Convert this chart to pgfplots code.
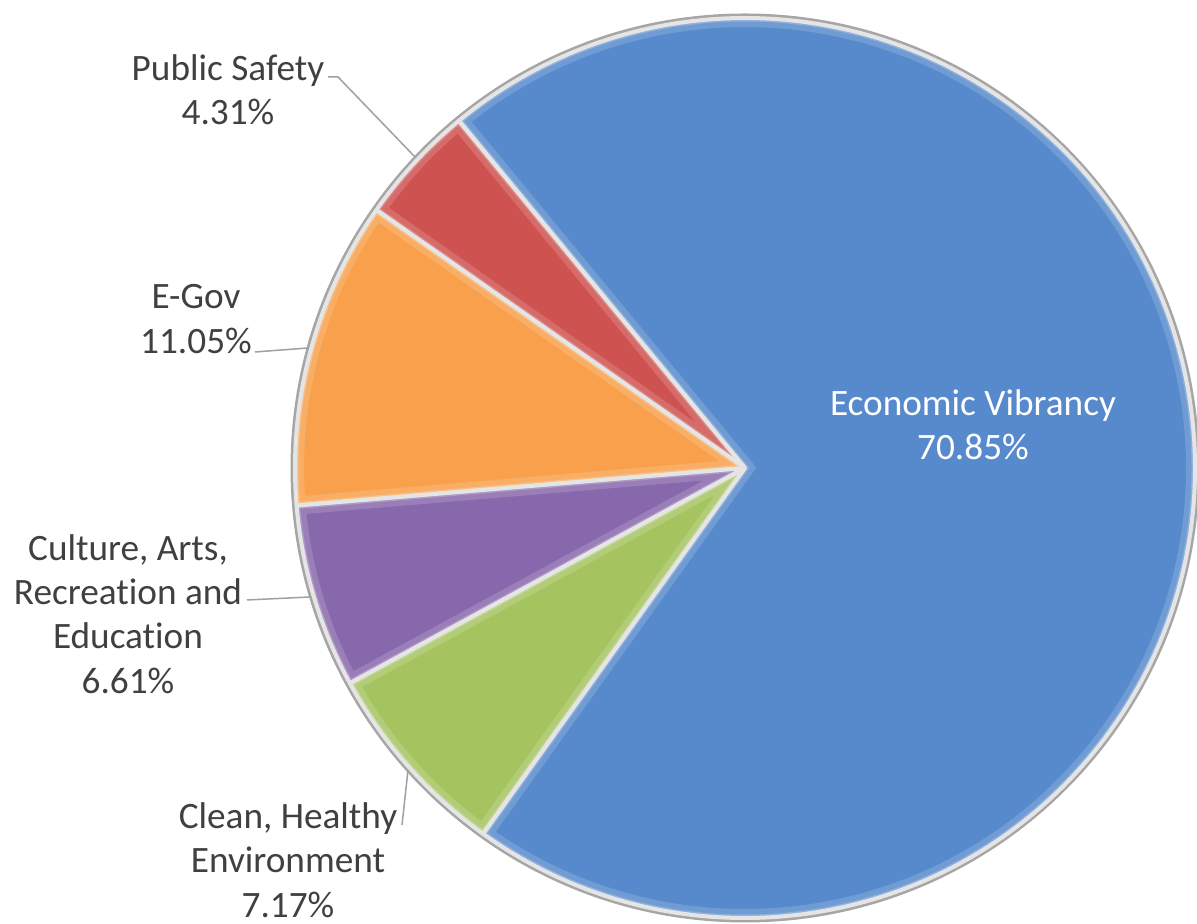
\documentclass[border=0pt]{standalone}
\usepackage{pgfplots}
\pgfplotsset{compat=1.18}
\usepackage{pgfplotstable}
\usepackage{fontspec}
\setmainfont{Carlito}[Ligatures={NoCommon}]
\definecolor{cBlue}{RGB}{87,138,204}
\definecolor{cRed}{RGB}{206,82,80}
\definecolor{cOrange}{RGB}{249,160,76}
\definecolor{cPurple}{RGB}{136,104,172}
\definecolor{cGreen}{RGB}{165,196,96}
\definecolor{txt}{RGB}{64,64,64}
\definecolor{lead}{RGB}{160,160,160}

\pgfplotstableread[col sep=comma]{
name,value,col
Public Safety,4.31,cRed
E-Gov,11.05,cOrange
Culture Arts Recreation and Education,6.61,cPurple
Clean Healthy Environment,7.17,cGreen
Economic Vibrancy,70.85,cBlue
}\piedata

\def\cx{745}
\def\cy{456}
\def\R{4.5cm}
\newcommand\slicepath[2]{(axis cs:\cx,\cy) -- ++(#1:\R) arc[start angle=#1,end angle=#2,radius=\R] -- cycle}
\newcommand\pieslice[3]{%
  \fill[#3] \slicepath{#1}{#2};
  \begin{scope}
    \clip \slicepath{#1}{#2};
    \draw[#3!50!white, line width=1.8mm, opacity=0.3] \slicepath{#1}{#2};
    \draw[#3!40!white, line width=0.7mm, opacity=0.4] \slicepath{#1}{#2};
  \end{scope}
  \draw[white!80!gray, line width=0.4mm, line join=round] \slicepath{#1}{#2};
}

\begin{document}
\begin{tikzpicture}
\begin{axis}[
  scale only axis, width=11.97cm, height=9.24cm,
  xmin=0, xmax=1197, ymin=0, ymax=924,
  hide axis, clip=false,
]
\draw[gray!70, line width=0.5mm] (axis cs:\cx,\cy) circle[radius=4.52cm];
\pgfplotstablegetrowsof{\piedata}
\pgfmathtruncatemacro\nrows{\pgfplotsretval-1}
\def\angstart{129.5}
\pgfplotsforeachungrouped \i in {0,...,\nrows}{%
  \pgfplotstablegetelem{\i}{value}\of\piedata \let\v\pgfplotsretval
  \pgfplotstablegetelem{\i}{col}\of\piedata \let\c\pgfplotsretval
  \pgfmathsetmacro\angend{\angstart+3.6*\v}%
  \edef\temp{\noexpand\pieslice{\angstart}{\angend}{\c}}%
  \temp
  \let\angstart\angend
}
% leader lines
\draw[lead, line width=0.15mm] (axis cs:328,847) -- (axis cs:338,847) -- (axis cs:415,767);
\draw[lead, line width=0.15mm] (axis cs:255,572) -- (axis cs:308,576);
\draw[lead, line width=0.15mm] (axis cs:247,324) -- (axis cs:310,327);
\draw[lead, line width=0.15mm] (axis cs:402,99) -- (axis cs:408,154);
% labels
\tikzset{lbl/.style={align=center, text=txt, font=\fontsize{10.6}{12.6}\selectfont, inner sep=0pt}}
\node[lbl, text=white] at (axis cs:973,499) {Economic Vibrancy\\70.85\%};
\node[lbl] at (axis cs:228,834) {Public Safety\\4.31\%};
\node[lbl] at (axis cs:196,605) {E-Gov\\11.05\%};
\node[lbl] at (axis cs:128,310) {Culture, Arts,\\Recreation and\\Education\\6.61\%};
\node[lbl] at (axis cs:288,64) {Clean, Healthy\\Environment\\7.17\%};
\end{axis}
\pgfresetboundingbox
\path[use as bounding box] (0,0) rectangle (11.97cm,9.24cm);
\end{tikzpicture}
\end{document}
